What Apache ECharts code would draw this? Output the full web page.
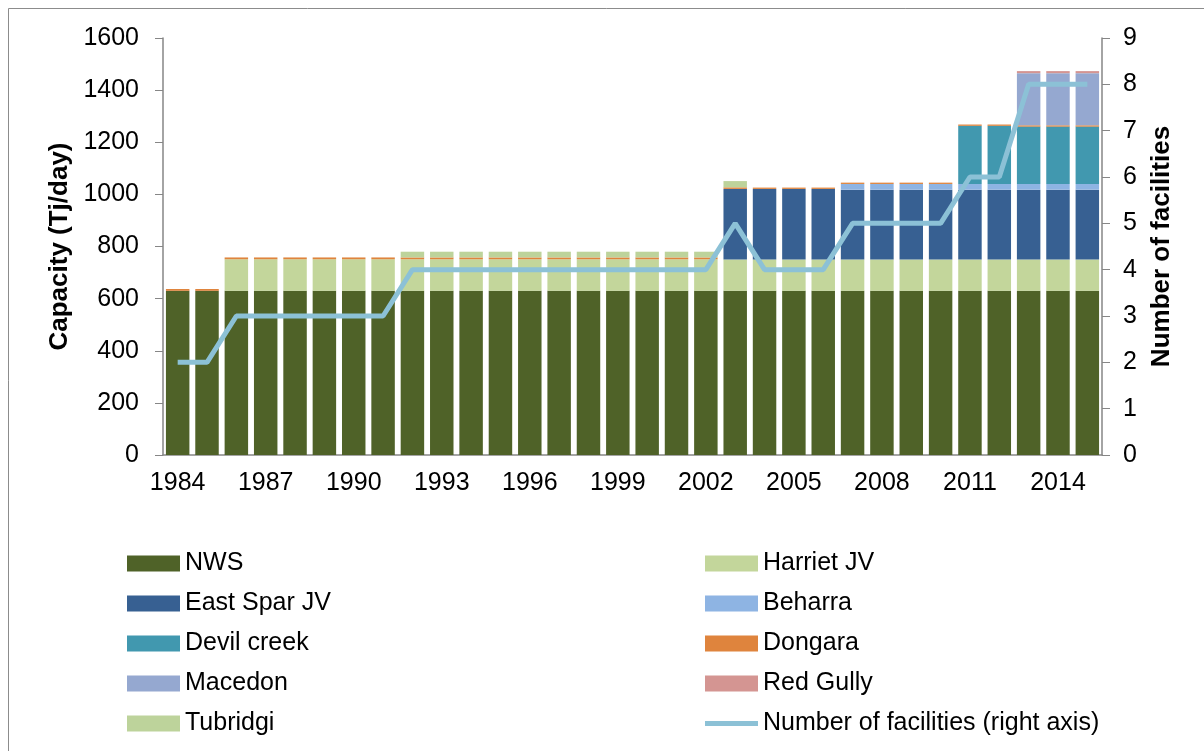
<!DOCTYPE html>
<html>
<head>
<meta charset="utf-8">
<script src="https://cdn.jsdelivr.net/npm/echarts@6/dist/echarts.min.js"></script>
<style>
  html, body { margin: 0; padding: 0; background: #fff; }
  #chart { width: 1204px; height: 751px; }
</style>
</head>
<body>
<div id="chart"></div>
<script>
// years on the category axis
const years = [
  "1984", "1985", "1986", "1987", "1988", "1989", "1990", "1991",
  "1992", "1993", "1994", "1995", "1996", "1997", "1998", "1999",
  "2000", "2001", "2002", "2003", "2004", "2005", "2006", "2007",
  "2008", "2009", "2010", "2011", "2012", "2013", "2014", "2015",
];

// capacity (Tj/day)
const nws = [630, 630, 630, 630, 630, 630, 630, 630, 630, 630, 630, 630, 630, 630, 630, 630,
  630, 630, 630, 630, 630, 630, 630, 630, 630, 630, 630, 630, 630, 630, 630, 630];
const harrietJV = [0, 0, 121, 121, 121, 121, 121, 121, 121, 121, 121, 121, 121, 121, 121, 121,
  121, 121, 121, 120, 120, 120, 120, 120, 120, 120, 120, 120, 120, 120, 120, 120];
const eastSparJV = [0, 0, 0, 0, 0, 0, 0, 0, 0, 0, 0, 0, 0, 0, 0, 0,
  0, 0, 0, 271, 271, 271, 271, 268, 268, 268, 268, 268, 268, 268, 268, 268];
const beharra = [0, 0, 0, 0, 0, 0, 0, 0, 0, 0, 0, 0, 0, 0, 0, 0,
  0, 0, 0, 0, 0, 0, 0, 22, 22, 22, 22, 22, 22, 22, 22, 22];
const devilCreek = [0, 0, 0, 0, 0, 0, 0, 0, 0, 0, 0, 0, 0, 0, 0, 0,
  0, 0, 0, 0, 0, 0, 0, 0, 0, 0, 0, 223, 223, 220, 220, 220];
const dongara = [7, 7, 7, 7, 7, 7, 7, 7, 7, 7, 7, 7, 7, 7, 7, 7,
  7, 7, 7, 6, 5, 5, 5, 5, 5, 5, 5, 5, 5, 5, 5, 5];
const macedon = [0, 0, 0, 0, 0, 0, 0, 0, 0, 0, 0, 0, 0, 0, 0, 0,
  0, 0, 0, 0, 0, 0, 0, 0, 0, 0, 0, 0, 0, 200, 200, 200];
const redGully = [0, 0, 0, 0, 0, 0, 0, 0, 0, 0, 0, 0, 0, 0, 0, 0,
  0, 0, 0, 0, 0, 0, 0, 0, 0, 0, 0, 0, 0, 8, 8, 8];
const tubridgi = [0, 0, 0, 0, 0, 0, 0, 0, 22, 22, 22, 22, 22, 22, 22, 22,
  22, 22, 22, 24, 0, 0, 0, 0, 0, 0, 0, 0, 0, 0, 0, 0];

// right axis
const facilities = [2, 2, 3, 3, 3, 3, 3, 3, 4, 4, 4, 4, 4, 4, 4, 4,
  4, 4, 4, 5, 4, 4, 4, 5, 5, 5, 5, 6, 6, 8, 8, 8];

const FONT = "Liberation Sans, Arial, sans-serif";
const LINE_NAME = "Number of facilities (right axis)";
const LINE_ICON = "path://M0,0 L53,0 L53,5 L0,5 Z";

const barSeries = [
  ["NWS", nws, "#4F6228"],
  ["Harriet JV", harrietJV, "#C3D69B"],
  ["East Spar JV", eastSparJV, "#376092"],
  ["Beharra", beharra, "#8EB4E3"],
  ["Devil creek", devilCreek, "#4198AF"],
  ["Dongara", dongara, "#DF843D"],
  ["Macedon", macedon, "#95A8D0"],
  ["Red Gully", redGully, "#D49592"],
  ["Tubridgi", tubridgi, "#BDD39B"],
].map(([name, data, color]) => ({
  name,
  type: "bar",
  stack: "capacity",
  data,
  barWidth: "80%",
  itemStyle: { color },
  emphasis: { disabled: true },
}));

const legendText = { fontFamily: FONT, fontSize: 25, color: "#000" };
const legendBase = {
  top: 546, orient: "vertical", icon: "rect",
  itemWidth: 53, itemHeight: 16, itemGap: 15,
  textStyle: legendText,
};

const option = {
  animation: false,
  backgroundColor: "#fff",
  textStyle: { fontFamily: FONT },
  graphic: [
    {
      type: "rect",
      shape: { x: 8.5, y: 8.5, width: 1300, height: 900 },
      style: { fill: "none", stroke: "#8c8c8c", lineWidth: 1 },
      silent: true,
    },
  ],
  grid: { left: 163, right: 102, top: 38, bottom: 296 },
  legend: [
    {
      ...legendBase,
      left: 122,
      data: ["NWS", "East Spar JV", "Devil creek", "Macedon", "Tubridgi"],
    },
    {
      ...legendBase,
      left: 700,
      data: ["Harriet JV", "Beharra", "Dongara", "Red Gully", { name: LINE_NAME, icon: LINE_ICON }],
    },
  ],
  xAxis: [
    {
      type: "category",
      data: years,
      axisLine: { lineStyle: { color: "#868686", width: 1.5 } },
      axisTick: { interval: 0, length: 8, lineStyle: { color: "#868686" } },
      axisLabel: { interval: 2, margin: 16, fontSize: 25, color: "#000", fontFamily: FONT },
    },
    {
      type: "category",
      data: years,
      position: "bottom",
      axisLine: { show: false },
      axisTick: { alignWithLabel: true, interval: 0, length: 4, lineStyle: { color: "#868686" } },
      axisLabel: { show: false },
    },
  ],
  yAxis: [
    {
      type: "value",
      min: 0, max: 1600, interval: 200,
      name: "Capacity (Tj/day)",
      nameLocation: "middle",
      nameRotate: 90,
      nameGap: 83,
      nameTextStyle: { fontSize: 26, fontWeight: "bold", color: "#000", fontFamily: FONT },
      axisLine: { show: true, lineStyle: { color: "#868686", width: 1.5 } },
      axisTick: { show: true, length: 8, lineStyle: { color: "#868686" } },
      axisLabel: { margin: 24, fontSize: 25, color: "#000", fontFamily: FONT, formatter: (v) => String(v) },
      splitLine: { show: false },
    },
    {
      type: "value",
      min: 0, max: 9, interval: 1,
      position: "right",
      name: "Number of facilities",
      nameLocation: "middle",
      nameRotate: 90,
      nameGap: 47,
      nameTextStyle: { fontSize: 26, fontWeight: "bold", color: "#000", fontFamily: FONT },
      axisLine: { show: true, lineStyle: { color: "#868686", width: 1.5 } },
      axisTick: { show: true, length: 8, lineStyle: { color: "#868686" } },
      axisLabel: { margin: 21, fontSize: 25, color: "#000", fontFamily: FONT },
      splitLine: { show: false },
    },
  ],
  series: [
    ...barSeries,
    {
      name: LINE_NAME,
      type: "line",
      yAxisIndex: 1,
      data: facilities,
      symbol: "none",
      z: 5,
      lineStyle: { color: "#8CC1D6", width: 5 },
      itemStyle: { color: "#8CC1D6" },
      emphasis: { disabled: true },
    },
  ],
};

const chart = echarts.init(document.getElementById("chart"));
chart.setOption(option);
</script>
</body>
</html>
